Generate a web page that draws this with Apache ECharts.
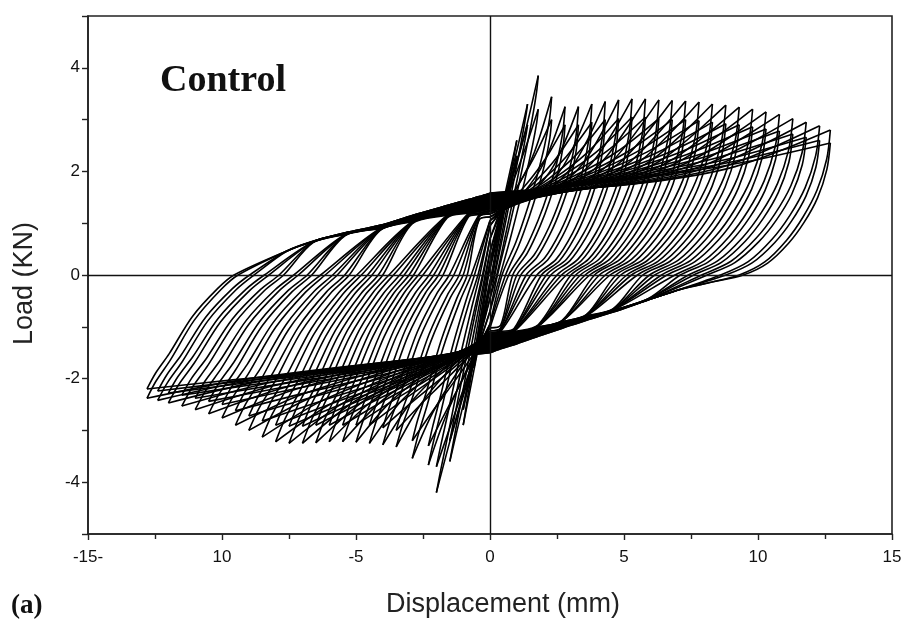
<!DOCTYPE html>
<html>
<head>
<meta charset="utf-8">
<script src="https://cdn.jsdelivr.net/npm/echarts@6/dist/echarts.min.js"></script>
<style>
  html, body { margin: 0; padding: 0; background: #fff; }
  #chart { width: 909px; height: 628px; }
</style>
</head>
<body>
<div id="chart"></div>
<script>
// Cyclic load test, control specimen.
// One entry per displacement level; each level is run twice (first and repeat cycle).
const posPeakDisp   = [0.6, 1.0, 1.4, 1.8, 2.3, 2.8, 3.3, 3.8, 4.3, 4.8, 5.3, 5.8, 6.3, 6.8, 7.3, 7.8, 8.3, 8.8, 9.3, 9.8, 10.3, 10.8, 11.3, 11.8, 12.3, 12.7];
const posPeakLoad   = [1.6, 2.6, 3.3, 3.85, 3.44, 3.25, 3.25, 3.3, 3.35, 3.38, 3.4, 3.4, 3.38, 3.37, 3.36, 3.34, 3.3, 3.28, 3.24, 3.2, 3.15, 3.1, 3.02, 2.95, 2.88, 2.8];
const posRepeatLoad = [1.4, 2.3, 2.9, 3.2, 3.0, 2.9, 2.9, 2.95, 3.0, 3.02, 3.05, 3.05, 3.02, 3.0, 3.0, 2.98, 2.95, 2.92, 2.9, 2.86, 2.82, 2.78, 2.72, 2.66, 2.6, 2.55];
const posZeroCross  = [0.05, 0.1, 0.18, 0.28, 0.45, 0.7, 1.0, 1.35, 1.75, 2.1, 2.5, 2.85, 3.2, 3.55, 3.9, 4.3, 4.7, 5.1, 5.5, 5.95, 6.4, 6.9, 7.4, 7.9, 8.6, 9.3];
const posRepeatZero = [0.08, 0.15, 0.25, 0.38, 0.58, 0.85, 1.15, 1.52, 1.92, 2.27, 2.67, 3.02, 3.37, 3.72, 4.08, 4.48, 4.88, 5.28, 5.7, 6.15, 6.6, 7.1, 7.6, 8.1, 8.8, 9.45];

const negPeakDisp   = [-0.6, -1.0, -1.5, -2.0, -2.3, -2.9, -3.5, -4.0, -4.5, -5.0, -5.5, -6.0, -6.5, -7.0, -7.5, -8.0, -8.5, -9.0, -9.5, -10.0, -10.5, -11.0, -11.5, -12.0, -12.4, -12.8];
const negPeakLoad   = [-1.8, -2.9, -3.6, -4.2, -3.67, -3.54, -3.32, -3.28, -3.25, -3.23, -3.22, -3.22, -3.24, -3.25, -3.25, -3.22, -3.13, -3.0, -2.9, -2.76, -2.68, -2.6, -2.53, -2.47, -2.42, -2.38];
const negRepeatLoad = [-1.6, -2.6, -3.2, -3.7, -3.3, -3.2, -3.0, -2.95, -2.9, -2.9, -2.9, -2.9, -2.9, -2.92, -2.92, -2.9, -2.82, -2.72, -2.62, -2.5, -2.44, -2.38, -2.32, -2.28, -2.24, -2.2];
const negZeroCross  = [-0.05, -0.1, -0.18, -0.28, -0.45, -0.7, -1.0, -1.35, -1.75, -2.1, -2.5, -2.85, -3.2, -3.6, -4.0, -4.4, -4.8, -5.25, -5.7, -6.15, -6.65, -7.15, -7.7, -8.25, -8.8, -9.4];
const negRepeatZero = [-0.08, -0.15, -0.25, -0.38, -0.58, -0.85, -1.15, -1.52, -1.92, -2.27, -2.67, -3.02, -3.37, -3.77, -4.17, -4.57, -4.97, -5.42, -5.87, -6.32, -6.82, -7.32, -7.87, -8.42, -8.97, -9.55];

// load where the branches pass zero displacement (pinching)
const upperPinch = [0.12, 0.25, 0.45, 0.7, 0.95, 1.05, 1.12, 1.18, 1.22, 1.25, 1.28, 1.3, 1.32, 1.34, 1.36, 1.38, 1.4, 1.42, 1.44, 1.46, 1.48, 1.5, 1.52, 1.54, 1.56, 1.58];
const lowerPinch = [-0.12, -0.25, -0.45, -0.7, -0.95, -1.02, -1.08, -1.12, -1.15, -1.18, -1.2, -1.22, -1.24, -1.26, -1.28, -1.3, -1.32, -1.34, -1.36, -1.38, -1.4, -1.42, -1.44, -1.46, -1.48, -1.5];
// how far each level's branches have bent away from the straight elastic response (0 = straight)
const pinchShape = [0, 0, 0.1, 0.25, 0.5, 0.7, 0.85, 0.95, 1, 1, 1, 1, 1, 1, 1, 1, 1, 1, 1, 1, 1, 1, 1, 1, 1, 1];

// Reloading envelopes of the outermost loop after the load changes sign (displacement, load)
const rightEnvelope = [[9.3, 0], [8.2, -0.15], [7.1, -0.29], [5.9, -0.5], [4.6, -0.74], [3.6, -0.9], [2.7, -1.06], [1.8, -1.22], [0.9, -1.39], [0.4, -1.47], [0, -1.55]];
const leftEnvelope  = [[-9.4, 0], [-8.6, 0.25], [-7.6, 0.48], [-6.6, 0.68], [-5.4, 0.85], [-4.1, 1.0], [-2.9, 1.2], [-1.6, 1.4], [-0.8, 1.52], [-0.4, 1.58], [0, 1.65]];

// Branch profiles, as fractions along each branch: first cycle and repeat cycle
const upperLoadProfile   = [[0, 0], [0.2, 0.06], [0.45, 0.16], [0.72, 0.42], [1, 1]];
const upperRepeatProfile = [[0, 0], [0.25, 0.15], [0.5, 0.35], [0.75, 0.62], [1, 1]];
const lowerLoadProfile   = [[0, 0], [0.29, 0.2], [0.55, 0.42], [0.76, 0.64], [1, 1]];
const lowerRepeatProfile = [[0, 0], [0.25, 0.28], [0.5, 0.52], [0.75, 0.75], [1, 1]];
const rightUnloadProfile = [[0, 1], [0.04, 0.8], [0.146, 0.586], [0.3, 0.4], [0.48, 0.24], [0.72, 0.09], [1, 0]];
const leftUnloadProfile  = [[0, 1], [0.1, 0.86], [0.256, 0.69], [0.52, 0.366], [0.81, 0.12], [1, 0]];

// Axis ticks
const xTickValues = [-15, -10, -5, 0, 5, 10, 15];
const xTickLabels = ['-15-', '10', '-5', '0', '5', '10', '15'];
const yTickValues = [-4, -2, 0, 2, 4];
const yTickLabels = ['-4', '-2', '0', '2', '4'];

// blend a profile fraction with the straight elastic line
const bend = (fx, fy, s) => (1 - s) * fx + s * fy;

function loadingBranch(profile, pinch, d, p, s) {
  return profile.map(([fx, fy]) => [fx * d, pinch + bend(fx, fy, s) * (p - pinch)]);
}
// Unload from a peak through the zero-load crossing, then ride the reloading
// envelope (held in proportion to this cycle's pinch load) back to zero displacement.
function unloadingBranch(d, p, zero, profile, envelope, pinchNext, s) {
  const pts = profile.map(([fx, fy]) => [d + fx * (zero - d), bend(1 - fx, fy, s) * p]);
  const k = pinchNext / envelope[envelope.length - 1][1];
  const gap = Math.min(1.1, 0.5 * Math.abs(zero));
  envelope.forEach(([ex, ey]) => {
    if (ex !== 0 && Math.abs(ex) <= Math.abs(zero) - gap) pts.push([ex, ey * k]);
  });
  pts.push([0, pinchNext]);
  return pts;
}

const branches = [];
for (let i = 0; i < posPeakDisp.length; i++) {
  const s = pinchShape[i];
  const nextUp = i + 1 < upperPinch.length ? upperPinch[i + 1] : upperPinch[i];
  // first cycle at this level
  branches.push(loadingBranch(upperLoadProfile, upperPinch[i], posPeakDisp[i], posPeakLoad[i], s));
  branches.push(unloadingBranch(posPeakDisp[i], posPeakLoad[i], posZeroCross[i], rightUnloadProfile, rightEnvelope, lowerPinch[i], s));
  branches.push(loadingBranch(lowerLoadProfile, lowerPinch[i], negPeakDisp[i], negPeakLoad[i], s));
  branches.push(unloadingBranch(negPeakDisp[i], negPeakLoad[i], negZeroCross[i], leftUnloadProfile, leftEnvelope, upperPinch[i], s));
  // repeat cycle at the same level
  branches.push(loadingBranch(upperRepeatProfile, upperPinch[i], posPeakDisp[i], posRepeatLoad[i], s));
  branches.push(unloadingBranch(posPeakDisp[i], posRepeatLoad[i], posRepeatZero[i], rightUnloadProfile, rightEnvelope, lowerPinch[i], s));
  branches.push(loadingBranch(lowerRepeatProfile, lowerPinch[i], negPeakDisp[i], negRepeatLoad[i], s));
  branches.push(unloadingBranch(negPeakDisp[i], negRepeatLoad[i], negRepeatZero[i], leftUnloadProfile, leftEnvelope, nextUp, s));
}

const series = branches.map(data => ({
  type: 'line',
  data: data,
  smooth: 0.3,
  showSymbol: false,
  silent: true,
  lineStyle: { color: '#000', width: 1.6 },
  z: 2
}));
series.push({
  type: 'line',
  data: [],
  silent: true,
  markLine: {
    symbol: 'none',
    silent: true,
    label: { show: false },
    lineStyle: { color: '#111', width: 1.4, type: 'solid' },
    data: [{ xAxis: 0 }, { yAxis: 0 }]
  },
  z: 3
});

const chart = echarts.init(document.getElementById('chart'), null, { renderer: 'canvas' });
chart.setOption({
  animation: false,
  backgroundColor: '#fff',
  grid: { left: 88, top: 16, width: 804, height: 518, show: true, borderColor: '#222', borderWidth: 1.6, backgroundColor: 'transparent' },
  xAxis: {
    type: 'value', min: -15, max: 15, interval: 5,
    axisLine: { onZero: false, lineStyle: { color: '#222', width: 1.6 } },
    axisTick: { length: 6, lineStyle: { color: '#222', width: 1.4 } },
    minorTick: { show: true, splitNumber: 2, length: 5, lineStyle: { color: '#222', width: 1.4 } },
    splitLine: { show: false },
    axisLabel: {
      margin: 15, color: '#111', fontSize: 17, fontFamily: 'Liberation Sans, Arial, sans-serif',
      formatter: v => { const k = xTickValues.indexOf(v); return k >= 0 ? xTickLabels[k] : ''; }
    }
  },
  yAxis: {
    type: 'value', min: -5, max: 5, interval: 1,
    axisLine: { onZero: false, lineStyle: { color: '#222', width: 1.6 } },
    axisTick: { length: 6, lineStyle: { color: '#222', width: 1.4 } },
    splitLine: { show: false },
    axisLabel: {
      margin: 8, color: '#111', fontSize: 17, fontFamily: 'Liberation Sans, Arial, sans-serif',
      formatter: v => { const k = yTickValues.indexOf(v); return k >= 0 ? yTickLabels[k] : ''; }
    }
  },
  graphic: [
    { type: 'text', left: 160, top: 62, style: { text: 'Control', fill: '#111', font: 'bold 38px "Liberation Serif", "Times New Roman", serif' } },
    { type: 'text', left: 11, top: 593, style: { text: '(a)', fill: '#111', font: 'bold 27px "Liberation Serif", "Times New Roman", serif' } },
    { type: 'text', left: 386, top: 591, style: { text: 'Displacement (mm)', fill: '#222', font: '27px "Liberation Sans", Arial, sans-serif' } },
    { type: 'text', left: 11, top: 222, rotation: Math.PI / 2, style: { text: 'Load (KN)', fill: '#222', font: '27px "Liberation Sans", Arial, sans-serif' } }
  ],
  series: series
});
</script>
</body>
</html>
